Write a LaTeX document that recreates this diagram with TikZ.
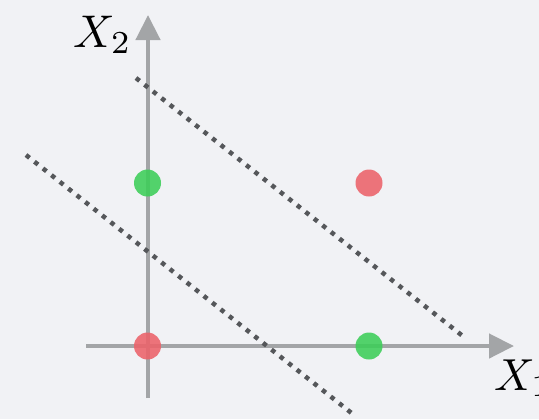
\documentclass[tikz,border=0pt]{standalone}
\usepackage{graphicx}
\usetikzlibrary{arrows.meta}
\definecolor{bgc}{RGB}{241,242,245}
\definecolor{axisc}{RGB}{163,165,167}
\definecolor{sepc}{RGB}{85,87,90}
\definecolor{greenc}{RGB}{60,206,88}
\definecolor{redc}{RGB}{236,98,106}
\begin{document}
\begin{tikzpicture}[x=1bp,y=-1bp,
  axis/.style={draw=axisc,line width=4.5bp,-{Triangle[length=25bp,width=24bp]}},
  sep/.style={draw=sepc,line width=4.5bp,dash pattern=on 4.5bp off 6.3bp},
  pt/.style={circle,minimum size=27bp,inner sep=0,fill opacity=0.88},
  lab/.style={anchor=base west,inner sep=0}]
\fill[bgc] (0,0) rectangle (539,419);
\useasboundingbox (0,0) rectangle (539,419);
\clip (0,0) rectangle (539,419);
\coordinate (xs) at (86,346);
\coordinate (xe) at (514,346);
\coordinate (ys) at (148,398);
\coordinate (ye) at (148,15);
\draw[axis] (xs) -- (xe);
\draw[axis] (ys) -- (ye);
\coordinate (s1a) at (136,78);
\coordinate (s1b) at (464,337);
\coordinate (s2a) at (26,155);
\coordinate (s2b) at (354,415);
\draw[sep] (s1a) -- (s1b);
\draw[sep] (s2a) -- (s2b);
\node[pt,fill=greenc] (g1) at (147.5,183) {};
\node[pt,fill=redc] (r1) at (369,183) {};
\node[pt,fill=redc] (r0) at (147.5,346) {};
\node[pt,fill=greenc] (g2) at (369,346) {};
\node[lab] (l2) at (73,47) {\scalebox{4.6}{$X_2$}};
\node[lab] (l1) at (494,390) {\scalebox{4.5}{$X_1$}};
\end{tikzpicture}
\end{document}
